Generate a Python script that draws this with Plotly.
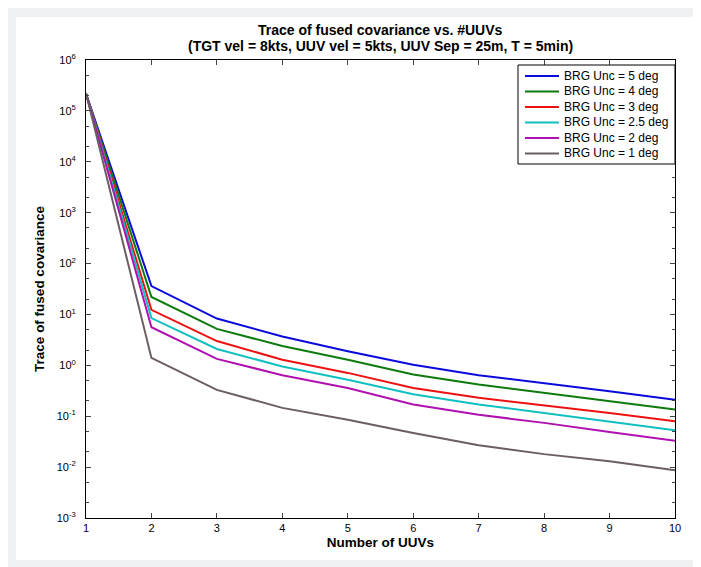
import plotly.graph_objects as go

num_uuvs = [1, 2, 3, 4, 5, 6, 7, 8, 9, 10]

labels = [
    'BRG Unc = 5 deg', 'BRG Unc = 4 deg', 'BRG Unc = 3 deg',
    'BRG Unc = 2.5 deg', 'BRG Unc = 2 deg', 'BRG Unc = 1 deg'
]
colors = ['#0a0adc', '#0d7a0d', '#ee1111', '#10c0c0', '#b010b0', '#6a5e60']

unc_5 = [2.2e5, 36, 8.3, 3.7, 1.9, 1.03, 0.64, 0.45, 0.31, 0.21]
unc_4 = [2.2e5, 22, 5.2, 2.4, 1.29, 0.66, 0.42, 0.29, 0.20, 0.135]
unc_3 = [2.2e5, 12.3, 3.0, 1.29, 0.71, 0.36, 0.23, 0.165, 0.116, 0.08]
unc_25 = [2.2e5, 8.5, 2.1, 0.95, 0.52, 0.27, 0.17, 0.116, 0.079, 0.053]
unc_2 = [2.2e5, 5.6, 1.34, 0.64, 0.36, 0.17, 0.107, 0.074, 0.049, 0.033]
unc_1 = [2.2e5, 1.4, 0.33, 0.146, 0.085, 0.047, 0.027, 0.018, 0.013, 0.0087]

series = [unc_5, unc_4, unc_3, unc_25, unc_2, unc_1]

title_lines = [
    'Trace of fused covariance vs. #UUVs',
    '(TGT vel = 8kts, UUV vel = 5kts, UUV Sep = 25m, T = 5min)'
]

decades = [-3, -2, -1, 0, 1, 2, 3, 4, 5, 6]
ytick_vals = [10.0 ** d for d in decades]
ytick_text = ['10<sup>%d</sup>' % d for d in decades]

fig = go.Figure()

for name, ys, c in zip(labels, series, colors):
    fig.add_trace(go.Scatter(
        x=num_uuvs, y=ys, name=name, mode='lines',
        line=dict(color=c, width=2), showlegend=False
    ))

# pixel helpers (plot area edges in page pixels)
L, R, T, B = 78, 667, 52, 510
def px(x):
    return (x - L) / (R - L)
def py(y):
    return (B - y) / (B - T)

# white frame behind everything
fig.add_shape(type='rect', xref='paper', yref='paper',
              x0=px(8), x1=px(692), y0=py(552), y1=py(9),
              fillcolor='white', line=dict(width=0), layer='below')

# title, two lines set a bit tighter than plotly's default line height
for i, line in enumerate(title_lines):
    fig.add_annotation(xref='paper', yref='paper', x=0.5, y=py(22 + i * 15.5),
                       xanchor='center', yanchor='middle', showarrow=False,
                       text='<b>%s</b>' % line, font=dict(size=14))

# matlab style legend box, drawn by hand so the rows sit tight
fig.add_shape(type='rect', xref='paper', yref='paper',
              x0=px(510), x1=px(667), y0=py(156), y1=py(57),
              fillcolor='white', line=dict(color='black', width=1))
for i, (name, c) in enumerate(zip(labels, colors)):
    yy = py(68 + i * 15.5)
    fig.add_shape(type='line', xref='paper', yref='paper',
                  x0=px(517), x1=px(551), y0=yy, y1=yy,
                  line=dict(color=c, width=2))
    fig.add_annotation(xref='paper', yref='paper', x=px(554), y=yy,
                       xanchor='left', yanchor='middle', text=name,
                       showarrow=False, font=dict(size=12))

fig.update_layout(
    width=701, height=567,
    margin=dict(l=L, r=701 - R, t=T, b=567 - B),
    paper_bgcolor='#eef0f2',
    plot_bgcolor='white',
    font=dict(family='Liberation Sans, Arial', color='black', size=11),
    showlegend=False,
    xaxis=dict(
        range=[1, 10], tickvals=num_uuvs, ticks='inside', ticklen=5,
        showline=True, linecolor='black', linewidth=1, mirror='ticks',
        showgrid=False, zeroline=False,
        title=dict(text='<b>Number of UUVs</b>', font=dict(size=13.5), standoff=4)
    ),
    yaxis=dict(
        type='log', range=[-3, 6], tickvals=ytick_vals, ticktext=ytick_text,
        ticks='inside', ticklen=5, ticklabelstandoff=7,
        minor=dict(ticks='inside', ticklen=3, showgrid=False),
        showline=True, linecolor='black', linewidth=1, mirror='ticks',
        showgrid=False, zeroline=False,
        title=dict(text='<b>Trace of fused covariance</b>', font=dict(size=13.5), standoff=8)
    )
)

fig.write_html('out.html')
